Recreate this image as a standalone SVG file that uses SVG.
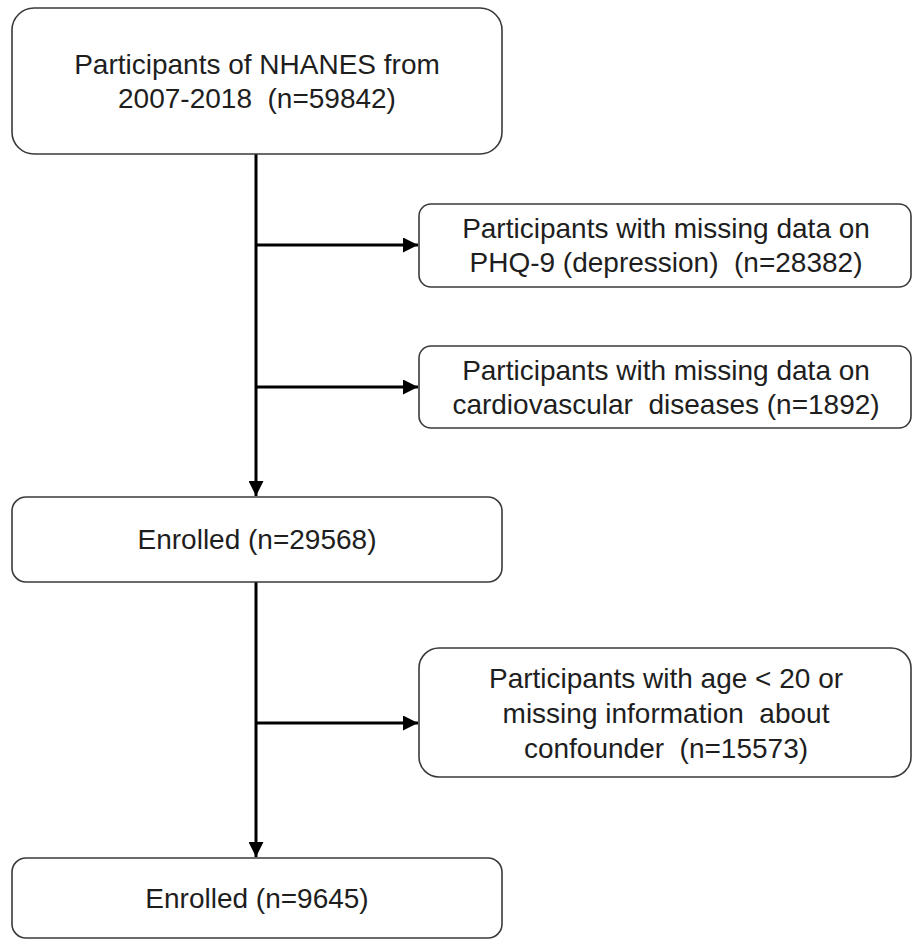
<svg xmlns="http://www.w3.org/2000/svg" width="913" height="940" viewBox="0 0 913 940">
  <style>
    .box { fill: #ffffff; stroke: #3a3a3a; stroke-width: 1.6; }
    .lbl { font-family: "Liberation Sans", Arial, sans-serif; font-size: 28px; fill: #1e1e1e; text-anchor: middle; white-space: pre; }
    .conn { stroke: #000000; stroke-width: 3; fill: none; }
  </style>
  <defs>
    <marker id="arrow" viewBox="0 0 10 10" refX="10" refY="5" markerWidth="5.6" markerHeight="5" markerUnits="strokeWidth" orient="auto">
      <path d="M0,0 L10,5 L0,10 Z" fill="#000000"/>
    </marker>
  </defs>
  <rect width="913" height="940" fill="#ffffff"/>

  <g id="connectors">
    <line class="conn" x1="256" y1="154" x2="256" y2="496" marker-end="url(#arrow)"/>
    <line class="conn" x1="256" y1="245" x2="418" y2="245" marker-end="url(#arrow)"/>
    <line class="conn" x1="256" y1="387" x2="418" y2="387" marker-end="url(#arrow)"/>
    <line class="conn" x1="256" y1="582" x2="256" y2="857" marker-end="url(#arrow)"/>
    <line class="conn" x1="256" y1="723" x2="418" y2="723" marker-end="url(#arrow)"/>
  </g>

  <g id="node-start">
    <rect class="box" x="12" y="8" width="490" height="146" rx="22" ry="22"/>
    <text class="lbl" x="257" y="74">Participants of NHANES from</text>
    <text class="lbl" x="257" y="108">2007-2018  (n=59842)</text>
  </g>

  <g id="node-excl-phq">
    <rect class="box" x="419" y="204" width="492" height="83" rx="12" ry="12"/>
    <text class="lbl" x="666" y="238">Participants with missing data on</text>
    <text class="lbl" x="666" y="272">PHQ-9 (depression)  (n=28382)</text>
  </g>

  <g id="node-excl-cvd">
    <rect class="box" x="419" y="346" width="492" height="82" rx="12" ry="12"/>
    <text class="lbl" x="666" y="380">Participants with missing data on</text>
    <text class="lbl" x="666" y="414">cardiovascular  diseases (n=1892)</text>
  </g>

  <g id="node-enrolled-1">
    <rect class="box" x="12" y="497" width="490" height="85" rx="14" ry="14"/>
    <text class="lbl" x="257" y="549">Enrolled (n=29568)</text>
  </g>

  <g id="node-excl-age">
    <rect class="box" x="419" y="648" width="492" height="129" rx="20" ry="20"/>
    <text class="lbl" x="666" y="688">Participants with age &lt; 20 or</text>
    <text class="lbl" x="666" y="723">missing information  about</text>
    <text class="lbl" x="666" y="758">confounder  (n=15573)</text>
  </g>

  <g id="node-enrolled-2">
    <rect class="box" x="12" y="858" width="490" height="80" rx="14" ry="14"/>
    <text class="lbl" x="257" y="908">Enrolled (n=9645)</text>
  </g>
</svg>
